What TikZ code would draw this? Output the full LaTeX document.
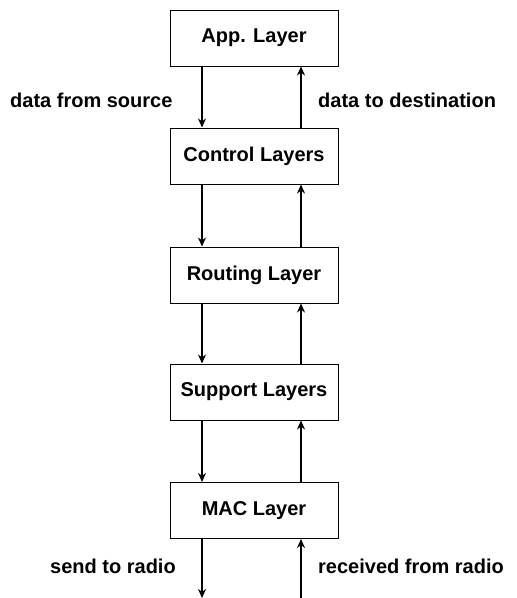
\documentclass[tikz,border=0pt]{standalone}
\usepackage{fontspec}
\setmainfont{Liberation Sans}
\usetikzlibrary{arrows.meta}
\begin{document}
\begin{tikzpicture}[x=1pt,y=-1pt,
  layerbox/.style={draw=black,line width=1pt,fill=white,minimum width=168pt,minimum height=56pt,inner sep=0pt,font=\fontsize{20}{24}\selectfont\bfseries},
  lbl/.style={font=\fontsize{20}{24}\selectfont\bfseries,inner sep=0pt},
  flow/.style={line width=2pt,-{Stealth[length=9pt,width=8pt]}}]
\useasboundingbox (0,0) rectangle (517,598);
\node[layerbox] (app) at (254,38) {App. Layer};
\node[layerbox] (ctl) at (254,156) {Control Layers};
\node[layerbox] (rte) at (254,275) {Routing Layer};
\node[layerbox] (sup) at (254,392) {Support Layers};
\node[layerbox] (mac) at (254,510.5) {MAC Layer};
\coordinate (radioout) at (202,598);
\coordinate (radioin) at (301,598);
\foreach \a/\b in {app/ctl,ctl/rte,rte/sup,sup/mac}{
  \draw[flow] (\a.south -| 202,0) -- (\b.north -| 202,0);
  \draw[flow] (\b.north -| 301,0) -- (\a.south -| 301,0);
}
\draw[flow] (mac.south -| radioout) -- (radioout);
\draw[flow] (radioin) -- (mac.south -| radioin);
\node[lbl,anchor=west] (src) at (10,100) {data from source};
\node[lbl,anchor=west] (dst) at (318,100) {data to destination};
\node[lbl,anchor=west] (snd) at (50,566) {send to radio};
\node[lbl,anchor=west] (rcv) at (318,566) {received from radio};
\end{tikzpicture}
\end{document}
